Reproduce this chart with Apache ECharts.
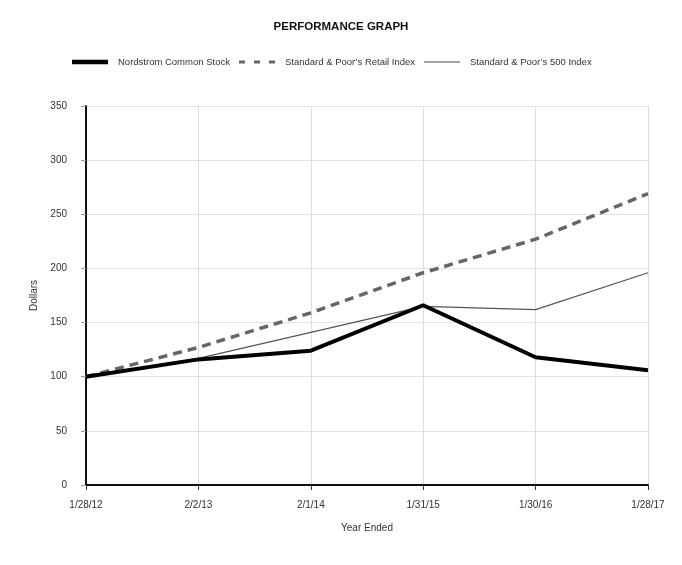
<!DOCTYPE html>
<html><head><meta charset="utf-8">
<script src="https://cdn.jsdelivr.net/npm/echarts@6/dist/echarts.min.js"></script>
<style>html,body{margin:0;padding:0;background:#fff}#c{width:682px;height:565px}</style>
</head><body><div id="c"></div>
<script>
var categories = ['1/28/12','2/2/13','2/1/14','1/31/15','1/30/16','1/28/17'];
var nordstrom = [100, 116, 124, 166, 118, 106];
var retail = [100, 127, 159, 196, 227, 269];
var sp500 = [100, 117, 141, 165, 162, 196];
var FONT = '"Liberation Sans Narrow","Arial Narrow","Liberation Sans",sans-serif';
var chart = echarts.init(document.getElementById('c'));
function lg(name, left, icon, h, color){
  return {data:[{name:name, icon:icon, itemStyle:{color:color, opacity:1}}], left:left, top:57, itemWidth:36, itemHeight:h,
    textStyle:{fontFamily:FONT, fontSize:9.5, color:'#333', padding:[0,0,0,5]}, selectedMode:false, padding:0};
}
chart.setOption({
  animation:false,
  title:{text:'PERFORMANCE GRAPH', left:'center', top:16,
    textStyle:{fontFamily:FONT, fontSize:11.5, fontWeight:'bold', color:'#111'}},
  legend:[
    lg('Nordstrom Common Stock',72,'rect',4.5,'#000'),
    lg('Standard & Poor\u2019s Retail Index',239,'path://M0,0H6V3H0Z M15,0H21V3H15Z M30,0H36V3H30Z',3,'#666'),
    lg('Standard & Poor\u2019s 500 Index',424,'rect',1.2,'#4a4a4a')
  ],
  grid:{left:86, right:34, top:106, bottom:80},
  xAxis:{type:'category', data:categories, boundaryGap:false,
    name:'Year Ended', nameLocation:'middle', nameGap:38,
    nameTextStyle:{fontFamily:FONT, fontSize:10, color:'#333'},
    axisLine:{lineStyle:{color:'#111', width:2}},
    axisTick:{show:true, alignWithLabel:true, length:5, lineStyle:{color:'#333'}},
    axisLabel:{fontFamily:FONT, fontSize:10, color:'#333', margin:15},
    splitLine:{show:true, lineStyle:{color:'#dcdcdc'}}},
  yAxis:{type:'value', min:0, max:350, interval:50,
    name:'Dollars', nameLocation:'middle', nameGap:45, nameRotate:90,
    nameTextStyle:{fontFamily:FONT, fontSize:10, color:'#333'},
    axisLine:{show:true, lineStyle:{color:'#111', width:2}},
    axisTick:{show:true, length:5, lineStyle:{color:'#999'}},
    axisLabel:{fontFamily:FONT, fontSize:10, color:'#333', margin:19},
    splitLine:{show:true, lineStyle:{color:'#e2e2e2'}}},
  series:[
    {name:'Standard & Poor\u2019s 500 Index', type:'line', data:sp500, symbol:'none',
      lineStyle:{color:'#555', width:1.2}, itemStyle:{color:'#555'}, z:2},
    {name:'Standard & Poor\u2019s Retail Index', type:'line', data:retail, symbol:'none',
      lineStyle:{color:'#666', width:3.5, type:[9,6]}, itemStyle:{color:'#666'}, z:3},
    {name:'Nordstrom Common Stock', type:'line', data:nordstrom, symbol:'none',
      lineStyle:{color:'#000', width:4}, itemStyle:{color:'#000'}, z:4}
  ]
});
</script></body></html>
